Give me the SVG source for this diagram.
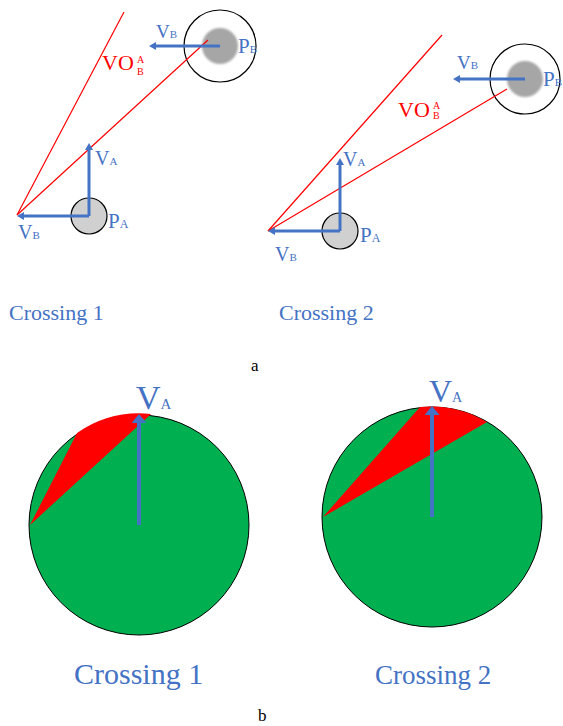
<svg xmlns="http://www.w3.org/2000/svg" width="563" height="726" viewBox="0 0 563 726">
<style>
.t{font-family:"Liberation Serif","Times New Roman",serif}
.blue{fill:#4472C4}
.red{fill:#FF0000}
.blk{fill:#000}
.vo{stroke:#FF0000;stroke-width:1.2;fill:none}
.vec{stroke:#4472C4;stroke-width:3;fill:none;marker-end:url(#ah)}
.vecb{stroke:#4472C4;stroke-width:4;fill:none;marker-end:url(#ahb)}
.ring{fill:none;stroke:#000;stroke-width:1.2}
.robB{fill:#A6A6A6}
.robA{fill:#D0D0D0;stroke:#000;stroke-width:1.2}
.disc{fill:#00B050;stroke:#000;stroke-width:1}
.cone{fill:#FF0000}
</style>
<defs>
<marker id="ah" markerUnits="userSpaceOnUse" markerWidth="8" markerHeight="8" refX="1" refY="4" orient="auto"><path d="M0,0 L7,4 L0,8 z" fill="#4472C4"/></marker>
<marker id="ahb" markerUnits="userSpaceOnUse" markerWidth="10" markerHeight="15" refX="1" refY="7.5" orient="auto"><path d="M0,0 L9,7.5 L0,15 z" fill="#4472C4"/></marker>
<filter id="soft" x="-20%" y="-20%" width="140%" height="140%"><feGaussianBlur stdDeviation="0.8"/></filter>
</defs>

<!-- Panel a, Crossing 1 -->
<g id="a1-robotB">
<circle class="ring" cx="220" cy="46" r="36"/>
<circle class="robB" cx="220" cy="46" r="18" filter="url(#soft)"/>
<text class="t blue" x="238" y="53" font-size="21">P<tspan font-size="11">B</tspan></text>
</g>
<g id="a1-robotA">
<circle class="robA" cx="89" cy="216" r="18"/>
<text class="t blue" x="108" y="228" font-size="21">P<tspan font-size="12">A</tspan></text>
</g>
<g id="a1-connectors">
<line class="vo" x1="17" y1="215" x2="124" y2="12"/>
<line class="vo" x1="17" y1="215" x2="208" y2="40"/>
<line class="vec" x1="220" y1="46" x2="155" y2="46"/>
<line class="vec" x1="89" y1="216" x2="89" y2="149"/>
<line class="vec" x1="89" y1="216" x2="23" y2="216"/>
</g>
<g id="a1-labels">
<text class="t blue" x="156" y="38" font-size="19">V<tspan font-size="11">B</tspan></text>
<text class="t red" x="102" y="70" font-size="22">VO</text>
<text class="t red" x="137" y="63" font-size="10">A</text>
<text class="t red" x="137" y="75" font-size="10">B</text>
<text class="t blue" x="95" y="165" font-size="20">V<tspan font-size="11">A</tspan></text>
<text class="t blue" x="18" y="239" font-size="20">V<tspan font-size="11">B</tspan></text>
<text class="t blue" x="9" y="320" font-size="22">Crossing 1</text>
</g>

<!-- Panel a, Crossing 2 -->
<g id="a2-robotB">
<circle class="ring" cx="525" cy="79" r="35"/>
<circle class="robB" cx="525" cy="79" r="18" filter="url(#soft)"/>
<text class="t blue" x="543" y="86" font-size="21">P<tspan font-size="11">B</tspan></text>
</g>
<g id="a2-robotA">
<circle class="robA" cx="340" cy="231" r="18"/>
<text class="t blue" x="360" y="242" font-size="21">P<tspan font-size="12">A</tspan></text>
</g>
<g id="a2-connectors">
<line class="vo" x1="268" y1="231" x2="442" y2="35"/>
<line class="vo" x1="268" y1="231" x2="507" y2="89"/>
<line class="vec" x1="525" y1="79" x2="459" y2="79"/>
<line class="vec" x1="340" y1="231" x2="340" y2="164"/>
<line class="vec" x1="340" y1="231" x2="274" y2="231"/>
</g>
<g id="a2-labels">
<text class="t blue" x="457" y="69" font-size="19">V<tspan font-size="11">B</tspan></text>
<text class="t red" x="398" y="117" font-size="22">VO</text>
<text class="t red" x="433" y="109" font-size="10">A</text>
<text class="t red" x="433" y="119" font-size="10">B</text>
<text class="t blue" x="343" y="166" font-size="20">V<tspan font-size="11">A</tspan></text>
<text class="t blue" x="275" y="261" font-size="20">V<tspan font-size="11">B</tspan></text>
<text class="t blue" x="279" y="320" font-size="22">Crossing 2</text>
</g>
<text class="t blk" x="251" y="371" font-size="17">a</text>

<!-- Panel b, Crossing 1 -->
<g id="b1-disc">
<circle class="disc" cx="139" cy="525" r="110"/>
<path class="cone" d="M30,525 L77,433 A110,110 0 0 1 151,414 Z"/>
</g>
<g id="b1-connectors">
<line class="vecb" x1="139" y1="525" x2="139" y2="422"/>
</g>
<g id="b1-labels">
<text class="t blue" x="136" y="409" font-size="34">V<tspan font-size="15">A</tspan></text>
<text class="t blue" x="74" y="684" font-size="30">Crossing 1</text>
</g>

<!-- Panel b, Crossing 2 -->
<g id="b2-disc">
<circle class="disc" cx="432" cy="517" r="110"/>
<path class="cone" d="M323,517 L420,407 A110,110 0 0 1 487,422 Z"/>
</g>
<g id="b2-connectors">
<line class="vecb" x1="432" y1="517" x2="432" y2="414"/>
</g>
<g id="b2-labels">
<text class="t blue" x="429" y="402" font-size="32">V<tspan font-size="14">A</tspan></text>
<text class="t blue" x="375" y="684" font-size="27">Crossing 2</text>
</g>
<text class="t blk" x="258" y="721" font-size="17">b</text>
</svg>
